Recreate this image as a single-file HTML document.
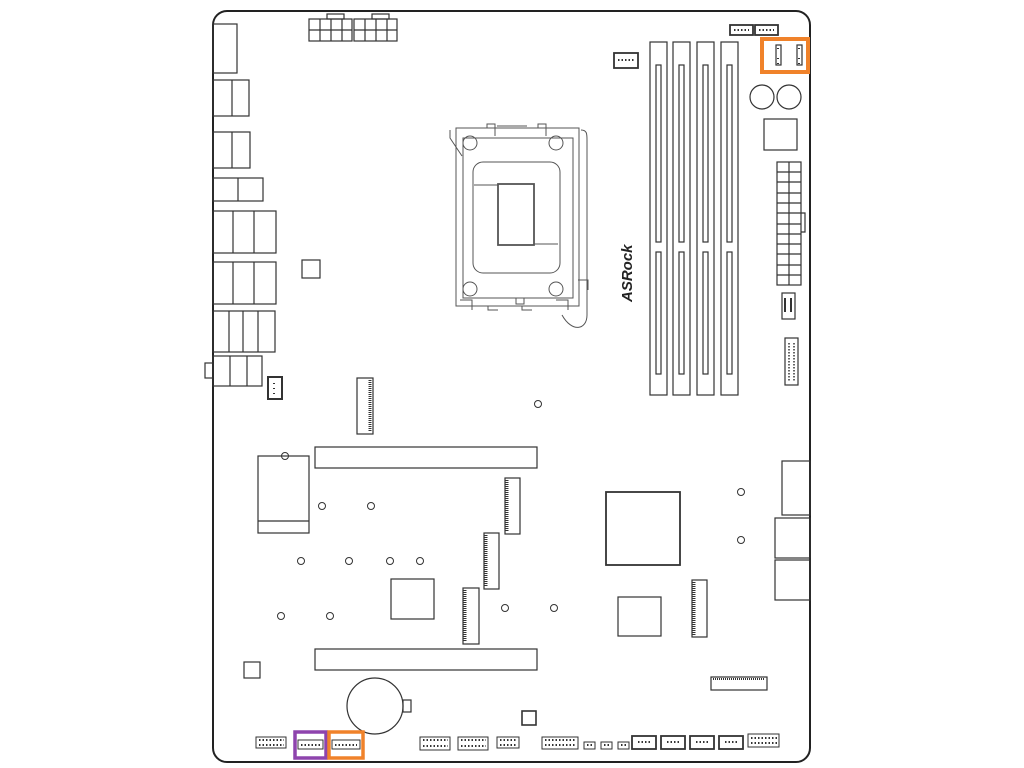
<!DOCTYPE html>
<html><head><meta charset="utf-8"><style>html,body{margin:0;padding:0;background:#fff;}svg{display:block}</style></head><body>
<svg width="1024" height="768" viewBox="0 0 1024 768" xmlns="http://www.w3.org/2000/svg" fill="none" stroke="#333" stroke-width="1.2">
<rect x="213" y="11" width="597" height="751" rx="14" fill="#fff" stroke="#222" stroke-width="2"/>
<!-- ATX 8pin -->
<rect x="327" y="14" width="17" height="5"/><rect x="372" y="14" width="17" height="5"/>
<rect x="309" y="19" width="43" height="22"/><rect x="354" y="19" width="43" height="22"/>
<path d="M320 19v22M331 19v22M342 19v22M365 19v22M376 19v22M387 19v22M309 30h43M354 30h43"/>
<!-- IO -->
<rect x="213" y="24" width="24" height="49"/>
<rect x="213" y="80" width="36" height="36"/><path d="M232 80v36"/>
<rect x="213" y="132" width="37" height="36"/><path d="M232 132v36"/>
<rect x="213" y="178" width="50" height="23"/><path d="M238 178v23"/>
<rect x="213" y="211" width="63" height="42"/><path d="M233 211v42M254 211v42"/>
<rect x="213" y="262" width="63" height="42"/><path d="M233 262v42M254 262v42"/>
<rect x="213" y="311" width="62" height="41"/><path d="M229 311v41M243 311v41M258 311v41"/>
<rect x="213" y="356" width="49" height="30"/><path d="M230 356v30M247 356v30"/>
<rect x="205" y="363" width="8" height="15"/>
<rect x="268" y="377" width="14" height="22" stroke-width="2"/>
<path d="M274 383v1M274 388v1M274 393v1" stroke-width="2"/>
<rect x="302" y="260" width="18" height="18"/>
<!-- socket -->
<g stroke="#555" stroke-width="1">
<rect x="456" y="128" width="123" height="178"/>
<rect x="463" y="138" width="110" height="160"/>
<rect x="473" y="162" width="87" height="111" rx="10"/>
<rect x="498" y="184" width="36" height="61" stroke-width="1.8"/>
<path d="M474 185h24M534 244h24"/>
<path d="M450 130v8l12 18M581 130c6 0 6 4 6 10v150M578 280h10v10M587 290v25c0 15-15 18-25 0"/>
<circle cx="470" cy="143" r="7"/><circle cx="556" cy="143" r="7"/><circle cx="470" cy="289" r="7"/><circle cx="556" cy="289" r="7"/>
<path d="M487 128v-4h8v12M538 128v-4h8v12M497 126h30M488 306v4h10M522 306v4h10M460 300h12v10M556 300h12v10"/>
<path d="M488 298h28v6h8v-6h28"/>
</g>
<!-- ASRock -->
<text x="0" y="0" transform="translate(632,302) rotate(-90)" font-family="Liberation Sans, sans-serif" font-size="15" font-weight="bold" font-style="italic" fill="#222" stroke="none">ASRock</text>
<!-- DIMMs -->
<g>
<rect x="650" y="42" width="17" height="353"/><rect x="656" y="65" width="5" height="177"/><rect x="656" y="252" width="5" height="122"/>
<rect x="673" y="42" width="17" height="353"/><rect x="679" y="65" width="5" height="177"/><rect x="679" y="252" width="5" height="122"/>
<rect x="697" y="42" width="17" height="353"/><rect x="703" y="65" width="5" height="177"/><rect x="703" y="252" width="5" height="122"/>
<rect x="721" y="42" width="17" height="353"/><rect x="727" y="65" width="5" height="177"/><rect x="727" y="252" width="5" height="122"/>
</g>
<!-- top right headers -->
<rect x="730" y="25" width="23" height="10" stroke-width="1.8"/><rect x="755" y="25" width="23" height="10" stroke-width="1.8"/>
<path d="M734 30h15M759 30h15" stroke-dasharray="1.5 2" stroke-width="2"/>
<rect x="614" y="53" width="24" height="15" stroke-width="1.8"/><path d="M618 60h16" stroke-dasharray="1.5 2" stroke-width="2"/>
<rect x="762" y="39" width="46" height="33" stroke="#f0822a" stroke-width="4"/>
<rect x="776" y="45" width="5" height="20"/><rect x="797" y="45" width="5" height="20"/>
<path d="M778 48v1M778 58v1M778 63v1M799 48v1M799 58v1M799 63v1" stroke-width="2"/>
<circle cx="762" cy="97" r="12"/><circle cx="789" cy="97" r="12"/>
<rect x="764" y="119" width="33" height="31"/>
<rect x="777" y="162" width="24" height="123"/>
<path d="M789 162v123M777 172h24M777 182h24M777 193h24M777 203h24M777 213h24M777 224h24M777 234h24M777 244h24M777 254h24M777 265h24M777 275h24M801 213h4v19h-4"/>
<rect x="782" y="293" width="13" height="26"/><path d="M785 298v14M791 298v14" stroke-width="2"/>
<rect x="785" y="338" width="13" height="47"/><path d="M789 343v38M794 343v38" stroke-dasharray="1.5 1.5" stroke-width="1.5"/>
<!-- M.2 etc -->
<rect x="357" y="378" width="16" height="56"/><path d="M370 380v52" stroke-width="3" stroke-dasharray="1 1"/>
<rect x="315" y="447" width="222" height="21"/>
<rect x="315" y="649" width="222" height="21"/>
<rect x="258" y="456" width="51" height="77"/><path d="M258 521h51"/>
<rect x="505" y="478" width="15" height="56"/><path d="M507 480v52" stroke-width="3" stroke-dasharray="1 1"/>
<rect x="484" y="533" width="15" height="56"/><path d="M486 535v52" stroke-width="3" stroke-dasharray="1 1"/>
<rect x="463" y="588" width="16" height="56"/><path d="M465 590v52" stroke-width="3" stroke-dasharray="1 1"/>
<rect x="692" y="580" width="15" height="57"/><path d="M694 582v53" stroke-width="3" stroke-dasharray="1 1"/>
<rect x="606" y="492" width="74" height="73" stroke-width="1.8"/>
<rect x="391" y="579" width="43" height="40"/>
<rect x="618" y="597" width="43" height="39"/>
<rect x="782" y="461" width="28" height="54"/>
<rect x="775" y="518" width="35" height="40"/>
<rect x="775" y="560" width="35" height="40"/>
<g stroke-width="1">
<circle cx="538" cy="404" r="3.5"/><circle cx="285" cy="456" r="3.5"/><circle cx="322" cy="506" r="3.5"/><circle cx="371" cy="506" r="3.5"/>
<circle cx="301" cy="561" r="3.5"/><circle cx="349" cy="561" r="3.5"/><circle cx="390" cy="561" r="3.5"/><circle cx="420" cy="561" r="3.5"/>
<circle cx="281" cy="616" r="3.5"/><circle cx="330" cy="616" r="3.5"/><circle cx="505" cy="608" r="3.5"/><circle cx="554" cy="608" r="3.5"/>
<circle cx="741" cy="492" r="3.5"/><circle cx="741" cy="540" r="3.5"/>
</g>
<rect x="244" y="662" width="16" height="16"/>
<circle cx="375" cy="706" r="28"/><rect x="403" y="700" width="8" height="12"/>
<rect x="522" y="711" width="14" height="14" stroke-width="1.6"/>
<rect x="711" y="677" width="56" height="13"/><path d="M713 679h52" stroke-width="2" stroke-dasharray="1 1"/>
<!-- bottom headers -->
<g stroke-width="1">
<rect x="256" y="737" width="30" height="11"/>
<rect x="298" y="740" width="25" height="9"/>
<rect x="332" y="740" width="28" height="9"/>
<rect x="420" y="737" width="30" height="13"/>
<rect x="458" y="737" width="30" height="13"/>
<rect x="497" y="737" width="22" height="11"/>
<rect x="542" y="737" width="36" height="12"/>
<rect x="584" y="742" width="11" height="7"/><rect x="601" y="742" width="11" height="7"/><rect x="618" y="742" width="11" height="7"/>
<rect x="748" y="734" width="31" height="13"/>
</g>
<g stroke-width="2" stroke-dasharray="1.5 2">
<path d="M259 740h25M259 745h25M301 745h20M335 745h22M423 740h25M423 746h25M461 740h25M461 746h25M500 740h17M500 745h17M545 740h31M545 745h31M587 745h6M604 745h6M621 745h6M751 738h26M751 743h26"/>
</g>
<g stroke-width="1.8">
<rect x="632" y="736" width="24" height="13"/><rect x="661" y="736" width="24" height="13"/><rect x="690" y="736" width="24" height="13"/><rect x="719" y="736" width="24" height="13"/>
</g>
<path d="M638 742h12M667 742h12M696 742h12M725 742h12" stroke-width="2" stroke-dasharray="1.5 2"/>
<rect x="295" y="732" width="31" height="26" stroke="#8e44ad" stroke-width="3.5"/>
<rect x="329" y="732" width="34" height="26" stroke="#f0822a" stroke-width="3.5"/>
</svg>
</body></html>
